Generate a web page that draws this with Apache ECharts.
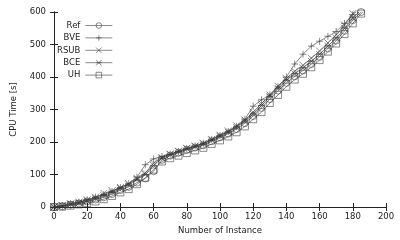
<!DOCTYPE html>
<html><head><meta charset="utf-8">
<script src="https://cdn.jsdelivr.net/npm/echarts@6/dist/echarts.min.js"></script>
<style>html,body{margin:0;padding:0;background:#fff}#c{width:400px;height:240px}</style>
</head><body><div id="c"></div>
<script>
const instances = [0,5,10,15,20,25,30,35,40,45,50,55,60,65,70,75,80,85,90,95,100,105,110,115,120,125,130,135,140,145,150,155,160,165,170,175,180,185,190];
const refVals  = [0,2,7,11,17,23,30,40,52,62,75,88,110,145,158,167,176,183,190,202,214,226,240,258,280,305,332,358,382,402,420,440,462,488,512,542,575,600,628];
const bveVals  = [0,4,10,15,22,30,38,48,60,72,92,130,148,156,163,171,180,188,196,208,220,232,248,270,310,330,345,370,400,440,470,495,510,525,540,565,592,615,640];
const rsubVals = [0,5,10,15,22,30,42,50,60,72,88,105,135,152,163,172,181,188,196,208,221,234,250,268,292,318,345,372,395,418,436,458,480,505,530,560,595,620,650];
const bceVals  = [0,3,8,12,18,26,35,45,57,68,85,100,128,150,161,170,179,186,194,206,218,230,245,264,286,312,340,365,390,410,428,448,470,495,520,550,582,606,632];
const uhVals   = [0,1,4,8,12,17,24,34,45,55,70,90,115,140,150,158,166,174,182,194,205,217,230,248,270,292,320,345,370,392,410,430,452,478,503,532,565,595,620];
const seriesNames = ['Ref','BVE','RSUB','BCE','UH'];
const xTicks = [0,20,40,60,80,100,120,140,160,180,200];
const yTicks = [0,100,200,300,400,500,600];

const symbols = {
  Ref: 'circle',
  BVE: 'path://M0,5L10,5M5,0L5,10',
  RSUB: 'path://M0,0L10,10M10,0L0,10',
  BCE: 'path://M0,0L10,10M10,0L0,10M0,5L10,5',
  UH: 'rect'
};
const vals = {Ref: refVals, BVE: bveVals, RSUB: rsubVals, BCE: bceVals, UH: uhVals};
const ink = '#222';
const markInk = '#3a3a3a';
const font = 'DejaVu Sans';

const series = seriesNames.map(n => ({
  name: n, type: 'line', xAxisIndex: 0, yAxisIndex: 0,
  data: instances.map((x, i) => [x, vals[n][i]]),
  symbol: symbols[n], symbolSize: 7, showSymbol: true,
  lineStyle: {color: markInk, width: 0.6},
  itemStyle: {color: 'transparent', borderColor: markInk, borderWidth: 0.6},
  emphasis: {disabled: true}, animation: false, clip: true
}));

const chart = echarts.init(document.getElementById('c'), null, {renderer: 'canvas'});
const axisCommon = {
  min: 0, axisLine: {show: true, lineStyle: {color: ink, width: 1}},
  axisTick: {show: true, inside: true, length: 4, lineStyle: {color: ink}},
  splitLine: {show: false}
};
chart.setOption({
  animation: false,
  grid: {left: 54, right: 14, top: 12, bottom: 32.5, containLabel: false},
  legend: {
    orient: 'vertical', align: 'right', left: 52, top: 16,
    itemWidth: 27, itemHeight: 7, itemGap: 3.4,
    itemStyle: {color: 'transparent', borderColor: markInk, borderWidth: 0.6},
    lineStyle: {color: markInk, width: 0.6},
    textStyle: {fontFamily: font, fontSize: 8.5, color: ink},
    data: seriesNames
  },
  xAxis: [
    Object.assign({}, axisCommon, {type: 'value', max: 200, interval: 20, position: 'bottom',
      name: 'Number of Instance', nameLocation: 'middle', nameGap: 19,
      nameTextStyle: {fontFamily: font, fontSize: 8.5, color: ink},
      axisLabel: {fontFamily: font, fontSize: 8.5, color: ink, margin: 5,
        formatter: v => xTicks.includes(v) ? String(v) : ''}}),
    Object.assign({}, axisCommon, {type: 'value', max: 200, interval: 20, position: 'top',
      axisLabel: {show: false}})
  ],
  yAxis: [
    Object.assign({}, axisCommon, {type: 'value', max: 600, interval: 100, position: 'left',
      name: 'CPU Time [s]', nameLocation: 'middle', nameGap: 36,
      nameTextStyle: {fontFamily: font, fontSize: 8.5, color: ink},
      axisLabel: {fontFamily: font, fontSize: 8.5, color: ink, margin: 8,
        formatter: v => yTicks.includes(v) ? String(v) : ''}}),
    Object.assign({}, axisCommon, {type: 'value', max: 600, interval: 100, position: 'right',
      axisLabel: {show: false}})
  ],
  series: series
});
</script></body></html>
